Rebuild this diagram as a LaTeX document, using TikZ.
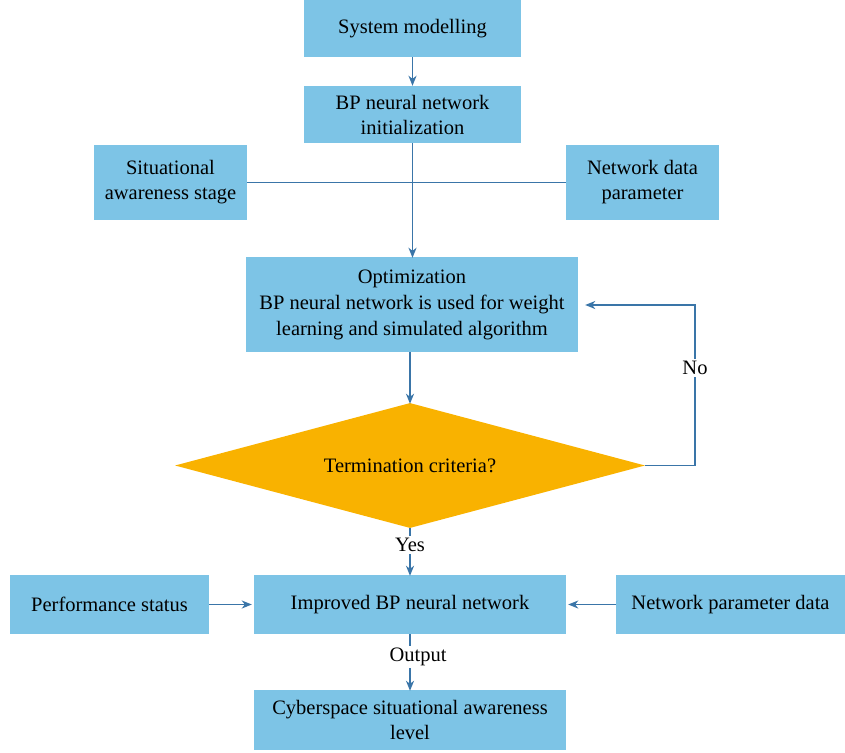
\documentclass[tikz,border=0pt]{standalone}
\usepackage{fontspec}
\setmainfont{Liberation Serif}
\usetikzlibrary{arrows.meta,shapes.geometric}
\definecolor{boxblue}{HTML}{7DC4E6}
\definecolor{diaorange}{HTML}{F9B200}
\definecolor{linecol}{HTML}{3A75A8}
\begin{document}
\begin{tikzpicture}[x=1pt,y=-1pt,
  box/.style={fill=boxblue,draw=none,inner sep=0pt,align=center,
    font=\fontsize{20.5}{25}\selectfont},
  conn/.style={draw=linecol,line width=1.5pt},
  arr/.style={conn,-{Stealth[length=10pt,width=8pt,inset=3pt]}},
  lbl/.style={fill=white,inner sep=2pt,font=\fontsize{20.5}{22}\selectfont}]
\useasboundingbox (0,0) rectangle (845,752);
\node[box,minimum width=217pt,minimum height=57pt] (A) at (412.5,28.5) {System modelling};
\node[box,minimum width=217pt,minimum height=57pt] (B) at (412.5,114.5) {BP neural network\\initialization};
\node[box,minimum width=153pt,minimum height=75pt] (C) at (170.5,182.5) {Situational\\awareness stage};
\node[box,minimum width=153pt,minimum height=75pt] (D) at (642.5,182.5) {Network data\\parameter};
\node[box,minimum width=332pt,minimum height=95pt,font=\fontsize{20.5}{26}\selectfont] (E) at (412,304.5) {Optimization\\BP neural network is used for weight\\learning and simulated algorithm};
\node[diamond,fill=diaorange,inner sep=0pt,minimum width=470pt,minimum height=125pt,aspect=3.76,font=\fontsize{20.5}{22}\selectfont] (F) at (410,465.5) {Termination criteria?};
\node[box,minimum width=312pt,minimum height=59pt] (G) at (410,604.5) {Improved BP neural network};
\node[box,minimum width=199pt,minimum height=59pt] (H) at (109.5,604.5) {Performance status};
\node[box,minimum width=229pt,minimum height=59pt] (I) at (730.5,604.5) {Network parameter data};
\node[box,minimum width=312pt,minimum height=60pt] (J) at (410,720) {Cyberspace situational awareness\\level};
\draw[arr] (A) -- (B);
\draw[arr] (B.south) -- ([yshift=-1pt]B.south |- E.north);
\draw[conn] (C.east) -- (D.west);
\draw[arr] (F.north |- E.south) -- ([yshift=-1pt]F.north);
\coordinate (R) at (695,465.5);
\coordinate (R2) at (695,305);
\draw[arr] (F.east) -- (R) -- (R2) -- ([xshift=7pt]E.east |- R2);
\node[lbl] (no) at (695,368) {No};
\draw[arr] (F.south) -- ([yshift=-1pt]G.north);
\node[lbl] (yes) at (410,545) {Yes};
\draw[arr] (H.east) -- ([xshift=-2pt]G.west);
\draw[arr] (I.west) -- ([xshift=2pt]G.east);
\draw[arr] (G.south) -- ([yshift=-1pt]J.north);
\node[lbl] (out) at (418,657) {Output};
\end{tikzpicture}
\end{document}
